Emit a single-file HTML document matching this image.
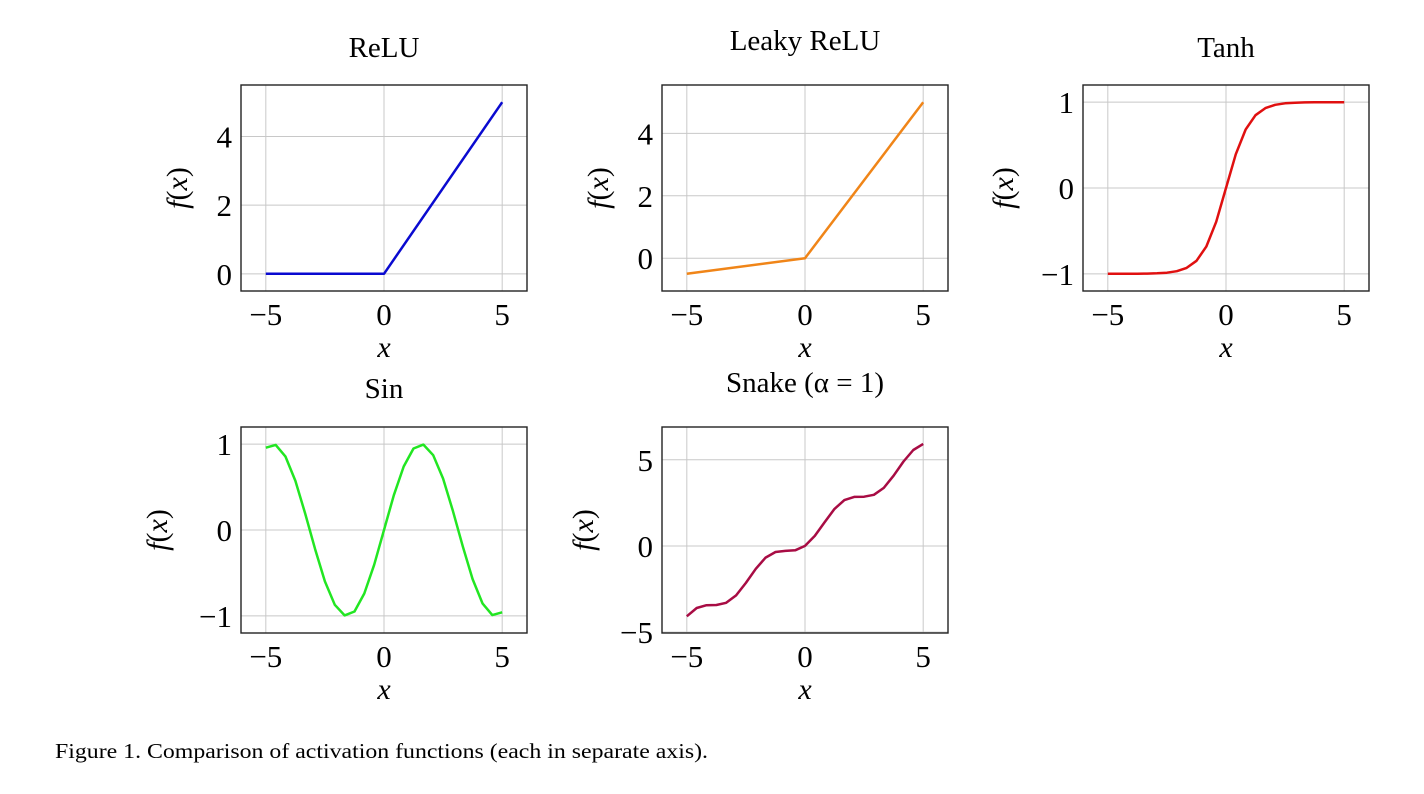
<!DOCTYPE html>
<html><head><meta charset="utf-8"><style>
html,body{margin:0;padding:0;background:#fff;}
svg{display:block;font-family:"Liberation Serif",serif;}
</style></head><body>
<svg id="fig" width="1424" height="794" viewBox="0 0 1424 794">
<text x="55" y="758" font-size="21" textLength="653" lengthAdjust="spacingAndGlyphs">Figure 1. Comparison of activation functions (each in separate axis).</text>
</svg>
<script>
const xsDense = [-5,-4.5833,-4.1667,-3.75,-3.3333,-2.9167,-2.5,-2.0833,-1.6667,-1.25,-0.8333,-0.4167,0,0.4167,0.8333,1.25,1.6667,2.0833,2.5,2.9167,3.3333,3.75,4.1667,4.5833,5];
const reluX = [-5,0,5];
const reluY = [0,0,5];
const leakyX = [-5,0,5];
const leakyY = [-0.5,0,5];
const tanhY = [-0.9999,-0.9998,-0.9995,-0.9989,-0.9975,-0.9942,-0.9866,-0.9695,-0.9311,-0.8483,-0.6822,-0.3942,0,0.3942,0.6822,0.8483,0.9311,0.9695,0.9866,0.9942,0.9975,0.9989,0.9995,0.9998,0.9999];
const sinY = [0.9589,0.9918,0.8549,0.5716,0.1905,-0.2230,-0.5985,-0.8715,-0.9954,-0.9490,-0.7402,-0.4047,0,0.4047,0.7402,0.9490,0.9954,0.8715,0.5985,0.2230,-0.1905,-0.5716,-0.8549,-0.9918,-0.9589];
const snakeY = [-4.0805,-3.5996,-3.4358,-3.4233,-3.2970,-2.8670,-2.1418,-1.3238,-0.6759,-0.3494,-0.2854,-0.2529,0,0.5805,1.3812,2.1506,2.6575,2.8428,2.8582,2.9664,3.3696,4.0767,4.8976,5.5670,5.9195];
const xTicks = [-5,0,5];
const reluTicks = [0,2,4];
const leakyTicks = [0,2,4];
const unitTicks = [-1,0,1];
const snakeTicks = [-5,0,5];

const NS="http://www.w3.org/2000/svg";
const svg=document.getElementById('fig');
function mk(tag,attrs,parent){const e=document.createElementNS(NS,tag);for(const k in attrs)e.setAttribute(k,attrs[k]);(parent||svg).appendChild(e);return e;}
function lab(t){return t<0?'\u2212'+(-t):''+t;}

const plots=[
 {name:'relu',title:'ReLU',ty:57,x0:241,y0:85,xs:reluX,ys:reluY,ymin:-0.5,ymax:5.5,yt:reluTicks,col:'#0a0ad0',ylx:180},
 {name:'leaky-relu',title:'Leaky ReLU',ty:50,x0:662,y0:85,xs:leakyX,ys:leakyY,ymin:-1.05,ymax:5.55,yt:leakyTicks,col:'#f08518',ylx:601},
 {name:'tanh',title:'Tanh',ty:57,x0:1083,y0:85,xs:xsDense,ys:tanhY,ymin:-1.2,ymax:1.2,yt:unitTicks,col:'#e01010',ylx:1006},
 {name:'sin',title:'Sin',ty:398,x0:241,y0:427,xs:xsDense,ys:sinY,ymin:-1.2,ymax:1.2,yt:unitTicks,col:'#22e622',ylx:160},
 {name:'snake',title:'Snake (\u03b1 = 1)',ty:392,x0:662,y0:427,xs:xsDense,ys:snakeY,ymin:-5.05,ymax:6.9,yt:snakeTicks,col:'#a80c44',ylx:586}
];
const W=286,H=206;
plots.forEach(p=>{
 const g=mk('g',{});
 
 
 const sx=v=>p.x0+(v+6.05)/12.1*W;
 const sy=v=>p.y0+H-(v-p.ymin)/(p.ymax-p.ymin)*H;
 const cx=p.x0+W/2;
 const t=mk('text',{x:cx,y:p.ty,'font-size':29,'text-anchor':'middle'},g);
 t.textContent=p.title;
 
 
 xTicks.forEach(v=>{
  const x=sx(v);
  const gl=mk('line',{x1:x,x2:x,y1:p.y0,y2:p.y0+H,stroke:'#c8c8c8','stroke-width':1},g);
  
  
  const tl=mk('text',{x:x,y:p.y0+H+34,'font-size':31,'text-anchor':'middle'},g);
  tl.textContent=lab(v);
  
  
 });
 p.yt.forEach(v=>{
  const y=sy(v);
  const gl=mk('line',{x1:p.x0,x2:p.x0+W,y1:y,y2:y,stroke:'#c8c8c8','stroke-width':1},g);
  
  
  const tl=mk('text',{x:p.x0-9,y:y+11,'font-size':31,'text-anchor':'end'},g);
  tl.textContent=lab(v);
  
  
 });
 const pts=p.xs.map((x,i)=>sx(x).toFixed(1)+','+sy(p.ys[i]).toFixed(1)).join(' ');
 const ln=mk('polyline',{points:pts,fill:'none',stroke:p.col,'stroke-width':2.5,'stroke-linejoin':'round'},g);
 
 
 const fr=mk('rect',{x:p.x0,y:p.y0,width:W,height:H,fill:'none',stroke:'#222','stroke-width':1.4},g);
 
 
 const xl=mk('text',{x:cx,y:p.y0+H+66,'font-size':30,'font-style':'italic','text-anchor':'middle'},g);
 xl.textContent='x';
 
 
 const cy=p.y0+H/2;
 const yl=mk('text',{x:p.ylx,y:cy,'font-size':30,'text-anchor':'middle',transform:'rotate(-90 '+p.ylx+' '+cy+')','dominant-baseline':'middle'},g);
 yl.innerHTML='<tspan font-style="italic">f</tspan>(<tspan font-style="italic">x</tspan>)';
 
 
});
</script>
</body></html>
